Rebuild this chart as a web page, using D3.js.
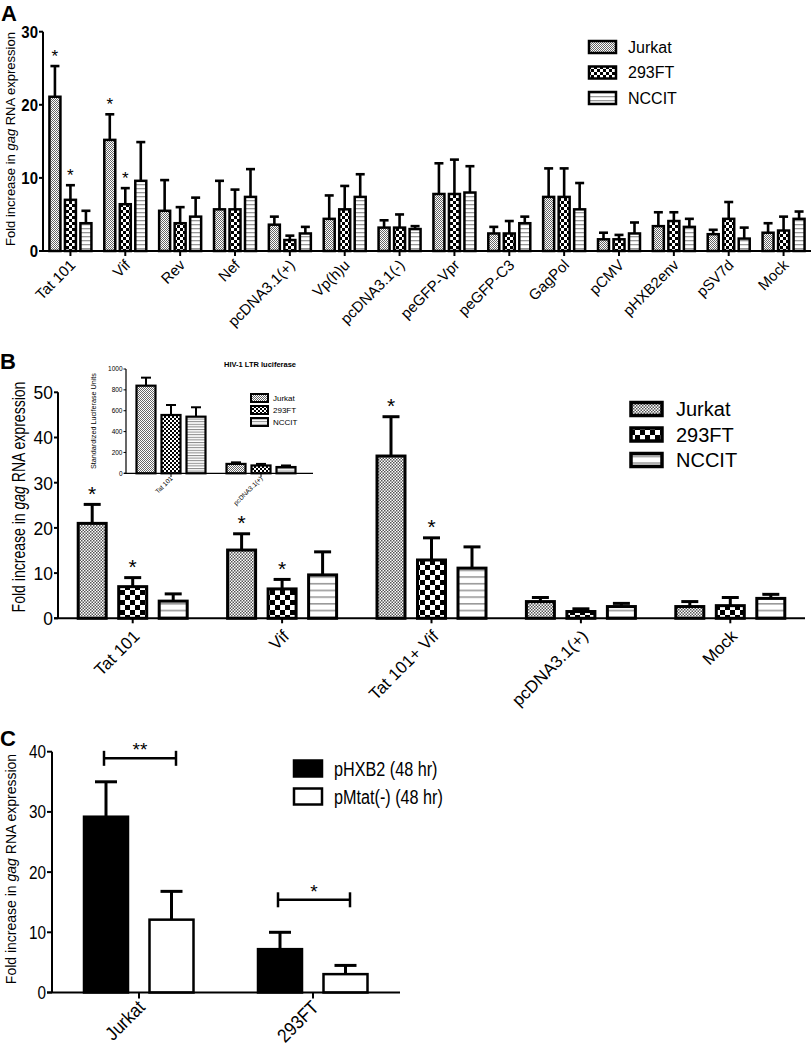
<!DOCTYPE html>
<html><head><meta charset="utf-8">
<script src="https://cdn.jsdelivr.net/npm/d3@7"></script>
<style>
html,body{margin:0;padding:0;background:#fff;}
svg{display:block;}
text{font-family:'Liberation Sans',Arial,sans-serif;fill:#000;}
</style>
</head><body>
<script>
// ---------- Panel A data ----------
const catsA = ["Tat 101","Vif","Rev","Nef","pcDNA3.1(+)","Vp(h)u","pcDNA3.1(-)","peGFP-Vpr","peGFP-C3","GagPol","pCMV","pHXB2env","pSV7d","Mock"];
const seriesNames = ["Jurkat","293FT","NCCIT"];
const jurkatA = [21.1,15.2,5.5,5.7,3.6,4.4,3.2,7.8,2.4,7.4,1.6,3.4,2.3,2.5];
const jurkatAErr = [4.2,3.5,4.2,3.9,1.1,3.2,1.0,4.2,0.9,3.9,0.9,1.9,0.6,1.3];
const ft293A = [7.0,6.4,3.8,5.7,1.5,5.7,3.2,7.8,2.4,7.4,1.6,4.1,4.4,2.8];
const ft293AErr = [2.0,2.2,2.2,2.7,0.6,3.2,1.8,4.7,1.7,3.9,0.6,1.2,2.3,1.9];
const ncditA = [3.8,9.6,4.7,7.4,2.4,7.4,3.0,8.0,3.8,5.7,2.4,3.3,1.7,4.4];
const ncditAErr = [1.7,5.3,2.6,3.8,0.9,3.1,0.4,3.6,0.9,3.6,1.5,1.1,1.5,1.0];
const starsA = [["Tat 101",0],["Tat 101",1],["Vif",0],["Vif",1]];
const ticksA = [0,10,20,30];

// ---------- Panel B data ----------
const catsB = ["Tat 101","Vif","Tat 101+ Vif","pcDNA3.1(+)","Mock"];
const jurkatB = [21.0,15.1,35.9,3.7,2.6];
const jurkatBErr = [4.2,3.6,8.7,0.9,1.1];
const ft293B = [7.0,6.5,12.9,1.5,2.8];
const ft293BErr = [2.0,2.1,4.9,0.6,1.8];
const ncditB = [3.8,9.6,11.1,2.6,4.4];
const ncditBErr = [1.6,5.1,4.7,0.7,0.9];
const starsB = [["Tat 101",0],["Tat 101",1],["Vif",0],["Vif",1],["Tat 101+ Vif",0],["Tat 101+ Vif",1]];
const ticksB = [0,10,20,30,40,50];

// ---------- Inset data ----------
const catsInset = ["Tat 101","pcDNA3.1(+)"];
const jurkatIn = [840,90];
const jurkatInErr = [77,15];
const ft293In = [559,75];
const ft293InErr = [96,15];
const ncditIn = [543,60];
const ncditInErr = [90,15];
const ticksInset = [0,200,400,600,800,1000];

// ---------- Panel C data ----------
const catsC = ["Jurkat","293FT"];
const seriesC = ["pHXB2 (48 hr)","pMtat(-) (48 hr)"];
const phxb2C = [29.2,7.2];
const phxb2CErr = [5.8,2.8];
const pmtatC = [12.1,3.05];
const pmtatCErr = [4.7,1.45];
const sigC = [["Jurkat",38.9,"**"],["293FT",15.4,"*"]];
const ticksC = [0,10,20,30,40];

const svg = d3.select("body").append("svg").attr("width",812).attr("height",1046);
const defs = svg.append("defs");

function checker(id, cell, fg, bg){
  const p = defs.append("pattern").attr("id",id).attr("patternUnits","userSpaceOnUse")
    .attr("width",cell*2).attr("height",cell*2);
  p.append("rect").attr("width",cell*2).attr("height",cell*2).attr("fill",bg);
  p.append("rect").attr("x",0).attr("y",0).attr("width",cell).attr("height",cell).attr("fill",fg);
  p.append("rect").attr("x",cell).attr("y",cell).attr("width",cell).attr("height",cell).attr("fill",fg);
}
function stripes(id, gap, lw, col){
  const p = defs.append("pattern").attr("id",id).attr("patternUnits","userSpaceOnUse")
    .attr("width",8).attr("height",gap);
  p.append("rect").attr("width",8).attr("height",gap).attr("fill","#fff");
  p.append("rect").attr("x",0).attr("y",0).attr("width",8).attr("height",lw).attr("fill",col);
}
checker("jA",1,"#666","#fff");
checker("fA",3,"#000","#fff");
stripes("nA",4,1.3,"#999");
checker("jB",1.5,"#555","#fff");
checker("fB",5,"#000","#fff");
stripes("nB",6.7,1.6,"#999");
checker("jI",1,"#666","#fff");
checker("fI",2,"#000","#fff");
stripes("nI",2.6,1,"#888");

// text helper with horizontal condensing (sx) and rotation
function txt(g, x, y, s, o){
  o = o||{};
  const t = g.append("text")
    .attr("transform",`translate(${x},${y}) rotate(${o.rot||0}) scale(${o.sx||1},1)`)
    .attr("text-anchor",o.anchor||"start")
    .attr("font-size",o.size||12)
    .attr("font-weight",o.weight||"normal");
  if (o.dy) t.attr("dy",o.dy);
  if (s !== null) t.text(s);
  return t;
}

function drawPanel(cfg){
  const g = svg.append("g");
  const y = d3.scaleLinear().domain(cfg.yDomain).range([cfg.y0, cfg.yTop]);
  const x = d3.scaleBand().domain(cfg.cats).range([cfg.xStart, cfg.xEnd]).paddingInner(0).paddingOuter(0);
  cfg.series.forEach((s,si)=>{
    cfg.cats.forEach((c,ci)=>{
      const cx = x(c) + x.bandwidth()/2 + cfg.offsets[si];
      const v = s.values[ci], e = s.err[ci];
      const bw = cfg.barW;
      g.append("line").attr("x1",cx).attr("x2",cx).attr("y1",y(v)).attr("y2",y(v+e))
        .attr("stroke","#000").attr("stroke-width",cfg.errW);
      g.append("line").attr("x1",cx-cfg.capW/2).attr("x2",cx+cfg.capW/2).attr("y1",y(v+e)).attr("y2",y(v+e))
        .attr("stroke","#000").attr("stroke-width",cfg.errW);
      g.append("rect").attr("x",cx-bw/2).attr("y",y(v)).attr("width",bw).attr("height",y(0)-y(v))
        .attr("fill",s.fill).attr("stroke","#000").attr("stroke-width",cfg.barStroke);
    });
  });
  (cfg.stars||[]).forEach(([c,si])=>{
    const ci = cfg.cats.indexOf(c);
    const s = cfg.series[si];
    const cx = x(c) + x.bandwidth()/2 + cfg.offsets[si];
    txt(g, cx, y(s.values[ci]+s.err[ci]) - cfg.starGap, "*", {anchor:"middle", size:cfg.starSize});
  });
  const ax = cfg.axW;
  g.append("line").attr("x1",cfg.xStart).attr("x2",cfg.xStart).attr("y1",cfg.y0).attr("y2",y(cfg.yDomain[1]))
    .attr("stroke","#000").attr("stroke-width",ax);
  g.append("line").attr("x1",cfg.xStart - cfg.tickLen).attr("x2",cfg.xAxisEnd).attr("y1",cfg.y0).attr("y2",cfg.y0)
    .attr("stroke","#000").attr("stroke-width",ax);
  cfg.ticks.forEach(t=>{
    g.append("line").attr("x1",cfg.xStart-cfg.tickLen).attr("x2",cfg.xStart).attr("y1",y(t)).attr("y2",y(t))
      .attr("stroke","#000").attr("stroke-width",ax);
    txt(g, cfg.xStart-cfg.tickLen-1, y(t), t, {anchor:"end", size:cfg.tickFont, weight:cfg.tickWeight, sx:cfg.tickSx, dy:"0.36em"});
  });
  cfg.cats.forEach(c=>{
    const cx = x(c)+x.bandwidth()/2;
    g.append("line").attr("x1",cx).attr("x2",cx).attr("y1",cfg.y0).attr("y2",cfg.y0+cfg.tickLen+1)
      .attr("stroke","#000").attr("stroke-width",ax);
    txt(g, cx+cfg.labDx, cfg.y0+cfg.labDy, c, {anchor:"end", size:cfg.labFont, rot:-45, sx:cfg.labSx});
  });
  const yt = txt(g, cfg.titleX, cfg.titleY, null, {anchor:"middle", size:cfg.titleFont, rot:-90, sx:cfg.titleSx});
  yt.append("tspan").text("Fold increase in ");
  yt.append("tspan").attr("font-style","italic").text("gag");
  yt.append("tspan").text(" RNA expression");
  const L = cfg.legend;
  cfg.series.forEach((s,si)=>{
    const yy = L.y0 + si*L.dy;
    g.append("rect").attr("x",L.x).attr("y",yy-L.h/2).attr("width",L.w).attr("height",L.h)
      .attr("fill",s.fill).attr("stroke","#000").attr("stroke-width",L.sw);
    txt(g, L.tx, yy, s.name, {size:L.font, sx:L.sx, dy:"0.36em"});
  });
  return {x,y,g};
}

// Panel letters
txt(svg, 1, 21, "A", {size:22, weight:"bold"});
txt(svg, 0, 369, "B", {size:22, weight:"bold"});
txt(svg, 0, 746, "C", {size:22, weight:"bold"});

// Panel A
drawPanel({
  cats:catsA, yDomain:[0,30], y0:251, yTop:31.7, xStart:43, xEnd:811, xAxisEnd:811,
  series:[
    {name:seriesNames[0], values:jurkatA, err:jurkatAErr, fill:"url(#jA)"},
    {name:seriesNames[1], values:ft293A, err:ft293AErr, fill:"url(#fA)"},
    {name:seriesNames[2], values:ncditA, err:ncditAErr, fill:"url(#nA)"}],
  offsets:[-15.5,0,15.5], barW:11, barStroke:2.5, errW:2.6, capW:9,
  stars:starsA, starGap:4, starSize:17,
  axW:2, tickLen:4, ticks:ticksA, tickFont:17, tickWeight:"bold", tickSx:0.88,
  labDx:6, labDy:15, labFont:15, labSx:1,
  titleX:15, titleY:139, titleFont:13, titleSx:1,
  legend:{x:589, y0:47, dy:25.5, w:27, h:12, sw:2.5, tx:628, font:16, sx:1}
});

// Panel B
drawPanel({
  cats:catsB, yDomain:[0,50], y0:618.3, yTop:392.3, xStart:58, xEnd:805, xAxisEnd:805,
  series:[
    {name:seriesNames[0], values:jurkatB, err:jurkatBErr, fill:"url(#jB)"},
    {name:seriesNames[1], values:ft293B, err:ft293BErr, fill:"url(#fB)"},
    {name:seriesNames[2], values:ncditB, err:ncditBErr, fill:"url(#nB)"}],
  offsets:[-40.5,0,40.5], barW:28, barStroke:3, errW:3, capW:17,
  stars:starsB, starGap:3.5, starSize:21,
  axW:2, tickLen:4, ticks:ticksB, tickFont:19, tickWeight:"normal", tickSx:0.92,
  labDx:8, labDy:19, labFont:17, labSx:1,
  titleX:25, titleY:497, titleFont:18, titleSx:0.78,
  legend:{x:631, y0:409, dy:25.5, w:31, h:13, sw:3.5, tx:676, font:20, sx:1}
});

// Inset
(function(){
  const g = svg.append("g");
  const y = d3.scaleLinear().domain([0,1000]).range([473.3,369]);
  const x = d3.scaleBand().domain(catsInset).range([126,306]);
  const series = [
    {name:seriesNames[0], values:jurkatIn, err:jurkatInErr, fill:"url(#jI)"},
    {name:seriesNames[1], values:ft293In, err:ft293InErr, fill:"url(#fI)"},
    {name:seriesNames[2], values:ncditIn, err:ncditInErr, fill:"url(#nI)"}];
  const offs = [-25,0,25];
  series.forEach((s,si)=>{
    catsInset.forEach((c,ci)=>{
      const cx = x(c)+x.bandwidth()/2+offs[si];
      const v=s.values[ci], e=s.err[ci];
      g.append("line").attr("x1",cx).attr("x2",cx).attr("y1",y(v)).attr("y2",y(v+e)).attr("stroke","#000").attr("stroke-width",2);
      g.append("line").attr("x1",cx-5).attr("x2",cx+5).attr("y1",y(v+e)).attr("y2",y(v+e)).attr("stroke","#000").attr("stroke-width",2);
      g.append("rect").attr("x",cx-9.5).attr("y",y(v)).attr("width",19).attr("height",y(0)-y(v))
        .attr("fill",s.fill).attr("stroke","#000").attr("stroke-width",2.2);
    });
  });
  g.append("line").attr("x1",126).attr("x2",126).attr("y1",473.3).attr("y2",369).attr("stroke","#000").attr("stroke-width",1.2);
  g.append("line").attr("x1",124).attr("x2",313).attr("y1",473.3).attr("y2",473.3).attr("stroke","#000").attr("stroke-width",1.2);
  ticksInset.forEach(t=>{
    g.append("line").attr("x1",123.5).attr("x2",126).attr("y1",y(t)).attr("y2",y(t)).attr("stroke","#000").attr("stroke-width",1);
    txt(g, 122.5, y(t), t, {anchor:"end", size:6.5, dy:"0.35em"});
  });
  catsInset.forEach(c=>{
    const cx = x(c)+x.bandwidth()/2;
    g.append("line").attr("x1",cx).attr("x2",cx).attr("y1",473.3).attr("y2",477).attr("stroke","#000").attr("stroke-width",1);
    txt(g, cx+2, 479, c, {anchor:"end", size:6.5, rot:-45});
  });
  txt(g, 96, 421, "Standardized Luciferase Units", {anchor:"middle", size:7.2, rot:-90});
  txt(g, 260, 367, "HIV-1 LTR luciferase", {anchor:"middle", size:7.5, weight:"bold"});
  series.forEach((s,si)=>{
    const yy = 398+si*12;
    g.append("rect").attr("x",251).attr("y",yy-4).attr("width",17).attr("height",8).attr("fill",s.fill).attr("stroke","#000").attr("stroke-width",2);
    txt(g, 273, yy, s.name, {size:8, dy:"0.36em"});
  });
})();

// Panel C
const pc = drawPanel({
  cats:catsC, yDomain:[0,40], y0:992.5, yTop:751.7, xStart:52, xEnd:400, xAxisEnd:400,
  series:[
    {name:seriesC[0], values:phxb2C, err:phxb2CErr, fill:"#000"},
    {name:seriesC[1], values:pmtatC, err:pmtatCErr, fill:"#fff"}],
  offsets:[-33,32.5], barW:44, barStroke:2.5, errW:3, capW:22,
  stars:[], starGap:0, starSize:18,
  axW:2, tickLen:5, ticks:ticksC, tickFont:18, tickWeight:"normal", tickSx:0.85,
  labDx:7, labDy:16, labFont:19, labSx:0.9,
  titleX:16, titleY:869, titleFont:14, titleSx:1,
  legend:{x:294, y0:768.5, dy:28, w:28, h:16, sw:2.5, tx:334, font:20, sx:0.81}
});
sigC.forEach(([c,v,lab])=>{
  const cx = pc.x(c)+pc.x.bandwidth()/2;
  const x1 = cx-35, x2 = cx+37, yy = pc.y(v);
  const g = pc.g;
  g.append("line").attr("x1",x1).attr("x2",x2).attr("y1",yy).attr("y2",yy).attr("stroke","#000").attr("stroke-width",2.5);
  g.append("line").attr("x1",x1).attr("x2",x1).attr("y1",yy-7.5).attr("y2",yy+7.5).attr("stroke","#000").attr("stroke-width",2.5);
  g.append("line").attr("x1",x2).attr("x2",x2).attr("y1",yy-7.5).attr("y2",yy+7.5).attr("stroke","#000").attr("stroke-width",2.5);
  txt(g, (x1+x2)/2, yy-2, lab, {anchor:"middle", size:19});
});
</script>
</body></html>
